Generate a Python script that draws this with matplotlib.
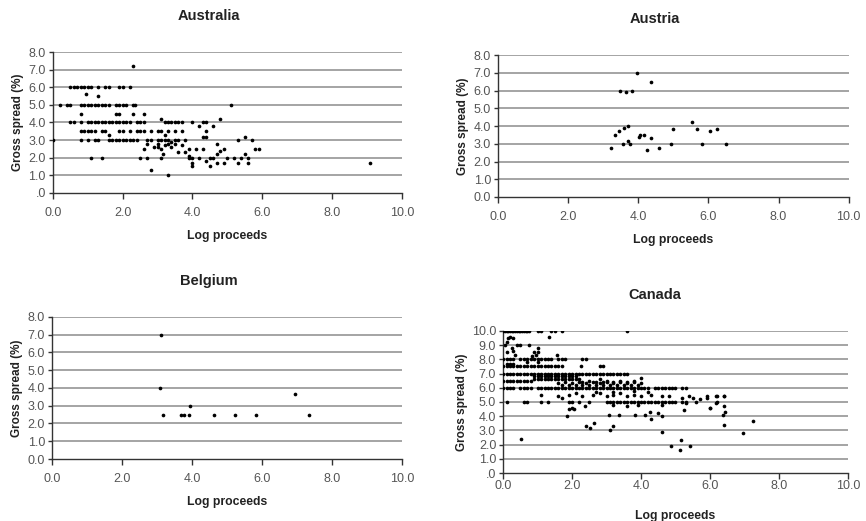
import matplotlib.pyplot as plt

plt.rcParams.update({
    "font.family": ["Liberation Sans", "DejaVu Sans"],
})

# Australia
aus_x = [
    # 6.0 row
    0.5, 0.6, 0.7, 0.8, 0.9, 1.0, 1.1, 1.3, 1.5, 1.6, 1.9, 2.0, 2.2,
    # 5.0 row
    0.2, 0.4, 0.5, 0.8, 0.9, 1.0, 1.1, 1.2, 1.3, 1.4, 1.5, 1.6, 1.8, 1.9, 2.0, 2.1, 2.3, 2.35,
    # 4.0 row
    0.5, 0.6, 0.8, 1.0, 1.1, 1.2, 1.3, 1.4, 1.5, 1.6, 1.7, 1.8, 1.9, 2.0, 2.1, 2.2, 2.4, 2.5,
    2.6, 3.2, 3.3, 3.4, 3.5, 3.6, 3.7, 4.0, 4.3, 4.4,
    # 3.5 row
    0.8, 0.9, 1.0, 1.1, 1.4, 1.5, 1.9, 2.0, 2.2, 2.4, 2.5, 2.6, 2.8, 3.0, 3.1, 3.3, 3.5, 3.7,
    # 3.0 row
    0.0, 0.8, 1.0, 1.2, 1.3, 1.6, 1.7, 1.8, 1.9, 2.0, 2.1, 2.2, 2.3, 2.4, 2.7, 3.0, 3.1, 3.2,
    3.3, 3.5, 3.6, 3.8,
    # scattered
    2.3, 0.95, 1.3, 5.1, 0.8, 1.8, 1.9, 2.3, 2.6, 4.8, 3.1, 1.2, 1.6, 1.1, 1.4, 2.5, 2.7, 3.1,
    2.8, 3.3, 9.1,
    # cloud
    2.6, 2.7, 2.8, 2.9, 3.0, 3.1, 3.2, 3.2, 3.3, 3.4, 3.5, 3.6, 3.7, 3.8, 3.9, 3.9, 4.0, 4.0,
    4.1, 4.0, 4.2, 4.2, 4.3, 4.4, 4.4, 4.3, 4.4, 4.5, 4.5, 4.6, 4.6, 4.7, 4.7, 4.7, 4.8, 4.9,
    4.9, 5.0, 5.3, 5.3, 5.4, 5.5, 5.5, 5.6, 5.6, 5.7, 5.8, 5.9, 5.2, 3.9, 3.4, 3.0, 3.15,
]
aus_y = [
    6.0, 6.0, 6.0, 6.0, 6.0, 6.0, 6.0, 6.0, 6.0, 6.0, 6.0, 6.0, 6.0,
    5.0, 5.0, 5.0, 5.0, 5.0, 5.0, 5.0, 5.0, 5.0, 5.0, 5.0, 5.0, 5.0, 5.0, 5.0, 5.0, 5.0, 5.0,
    4.0, 4.0, 4.0, 4.0, 4.0, 4.0, 4.0, 4.0, 4.0, 4.0, 4.0, 4.0, 4.0, 4.0, 4.0, 4.0, 4.0, 4.0,
    4.0, 4.0, 4.0, 4.0, 4.0, 4.0, 4.0, 4.0, 4.0, 4.0,
    3.5, 3.5, 3.5, 3.5, 3.5, 3.5, 3.5, 3.5, 3.5, 3.5, 3.5, 3.5, 3.5, 3.5, 3.5, 3.5, 3.5, 3.5,
    3.0, 3.0, 3.0, 3.0, 3.0, 3.0, 3.0, 3.0, 3.0, 3.0, 3.0, 3.0, 3.0, 3.0, 3.0, 3.0, 3.0, 3.0,
    3.0, 3.0, 3.0, 3.0,
    7.2, 5.6, 5.5, 5.0, 4.5, 4.5, 4.5, 4.5, 4.5, 4.2, 4.2, 3.5, 3.3, 2.0, 2.0, 2.0, 2.0, 2.0,
    1.3, 1.0, 1.7,
    2.5, 2.8, 3.0, 2.6, 2.8, 2.5, 2.7, 3.3, 2.8, 2.6, 2.8, 2.3, 2.7, 2.3, 2.0, 2.5, 1.5, 1.7,
    2.5, 2.0, 2.0, 3.8, 3.2, 3.2, 3.5, 2.5, 1.8, 1.5, 2.0, 3.8, 2.0, 2.8, 2.2, 1.7, 2.4, 2.5,
    1.7, 2.0, 3.0, 1.7, 2.0, 3.2, 2.2, 2.0, 1.7, 3.0, 2.5, 2.5, 2.0, 2.1, 2.9, 2.6, 2.2,
]

# Austria
aut_x = [3.21, 3.35, 3.44, 3.49, 3.64, 3.83, 3.58, 3.56, 3.72, 3.70, 3.76, 3.97, 4.02, 4.06,
         4.15, 4.24, 4.36, 4.37, 4.58, 4.92, 5.00, 5.54, 5.68, 5.82, 6.04, 6.25, 6.51]
aut_y = [2.75, 3.5, 3.75, 6.0, 5.95, 6.0, 3.9, 3.0, 4.0, 3.15, 3.0, 7.0, 3.4, 3.5,
         3.5, 2.65, 6.5, 3.3, 2.75, 3.0, 3.85, 4.25, 3.85, 3.0, 3.75, 3.85, 3.0]

# Belgium
bel_x = [3.13, 3.10, 3.16, 3.69, 3.76, 3.91, 3.95, 4.62, 5.23, 5.84, 6.94, 7.36]
bel_y = [7.0, 4.0, 2.5, 2.5, 2.5, 2.5, 3.0, 2.5, 2.5, 2.5, 3.65, 2.45]

# Canada
can_x = [
    # 10.0 row
    0.0, 0.05, 0.1, 0.15, 0.2, 0.25, 0.3, 0.35, 0.4, 0.45, 0.5, 0.55, 0.6, 0.65, 0.7, 0.75,
    1.0, 1.1, 1.4, 1.5, 1.7, 3.6,
    # 8-9.6 near origin
    0.05, 0.1, 0.15, 0.2, 0.3, 0.1, 0.25, 0.3, 0.4, 0.5, 0.75, 0.9, 0.95, 1.0, 1.0, 0.35,
    1.32, 1.55, 2.25, 0.85,
    # 8.0 row
    0.0, 0.1, 0.2, 0.3, 0.5, 0.6, 0.7, 0.8, 0.9, 1.0, 1.1, 1.2, 1.3, 1.4, 1.6, 1.7, 1.8,
    2.3, 2.4,
    # 7.7
    0.1, 0.2, 0.3, 0.7, 1.0,
    # 7.5 row
    0.0, 0.1, 0.2, 0.3, 0.4, 0.5, 0.6, 0.7, 0.8, 0.9, 1.0, 1.1, 1.2, 1.3, 1.4, 1.5, 1.6, 1.7,
    2.8, 2.9,
    # 7.0 row
    0.0, 0.1, 0.2, 0.3, 0.4, 0.5, 0.6, 0.7, 0.8, 0.9, 1.0, 1.1, 1.2, 1.3, 1.4, 1.5, 1.6, 1.7,
    1.8, 1.9, 2.0, 2.1, 2.2, 2.3, 2.4, 2.5, 2.6, 2.7, 2.8, 2.9, 3.0, 3.1, 3.2, 3.3, 3.4, 3.5,
    3.6,
    # 6.8 block
    0.9, 1.0, 1.1, 1.2, 1.3, 1.4, 1.5, 1.6, 1.7, 1.8, 1.9, 2.0, 2.1,
    # 6.6 block
    0.9, 1.0, 1.1, 1.2, 1.3, 1.4, 1.5, 1.6, 1.7, 1.8, 1.9, 2.0, 2.1, 2.2,
    # 6.5 row
    0.0, 0.1, 0.2, 0.3, 0.4, 0.5, 0.6, 0.7, 0.8, 2.3, 2.5, 2.7, 2.8, 2.9, 3.0, 3.2, 3.4, 3.6,
    3.8, 4.0,
    # 6.3 band
    1.6, 1.7, 1.8, 1.9, 2.0, 2.1, 2.2, 2.3, 2.4, 2.5, 2.6, 2.7, 2.8, 2.9, 3.0, 3.1, 3.2, 3.3,
    3.4, 3.5, 3.6, 3.7, 3.8, 3.9, 4.0,
    # 6.0 row
    0.0, 0.1, 0.2, 0.3, 0.5, 0.6, 0.7, 0.8, 1.0, 1.1, 1.2, 1.3, 1.4, 1.5, 1.6, 1.7, 1.8, 1.9,
    2.0, 2.1, 2.2, 2.3, 2.4, 2.5, 2.6, 2.7, 2.8, 2.9, 3.0, 3.1, 3.2, 3.3, 3.4, 3.5, 3.6, 3.7,
    3.8, 3.9, 4.0, 4.1, 4.2, 4.4, 4.5, 4.6, 4.7, 4.8, 4.9, 5.0, 5.2, 5.3,
    # 5.5 scatter
    1.1, 1.6, 1.7, 1.9, 2.1, 2.3, 2.6, 2.8, 3.0, 3.2, 3.4, 3.6, 3.8, 4.0, 4.3, 4.6, 4.8,
    5.2, 5.4, 5.5, 5.7, 5.9, 6.2, 6.4, 2.7, 3.2, 3.8, 4.2,
    # 5.0 row
    0.1, 0.6, 0.7, 1.1, 1.3, 1.9, 2.0, 2.2, 2.5, 3.0, 3.1, 3.2, 3.3, 3.4, 3.5, 3.6, 3.7,
    3.8, 3.9, 4.0, 4.1, 4.2, 4.3, 4.4, 4.5, 4.6, 4.7, 4.8, 4.9, 5.0, 5.2, 5.3, 5.6, 6.2,
    # 4.6-4.8 scatter
    3.2, 3.6, 3.9, 4.6, 5.3, 2.0, 6.0,
    # lower scatter
    0.53, 1.84, 1.91, 2.05, 2.37, 2.40, 2.51, 2.63, 3.09, 3.19, 3.07, 3.35, 3.82, 4.13, 4.27,
    4.30, 4.49, 4.60, 4.62, 4.88, 5.14, 5.16, 5.42, 5.26, 5.99, 6.40, 6.38, 6.43, 6.40, 6.96,
    7.25, 5.91, 6.18, 6.40, 6.18,
]
can_y = [
    10.0, 10.0, 10.0, 10.0, 10.0, 10.0, 10.0, 10.0, 10.0, 10.0, 10.0, 10.0, 10.0, 10.0, 10.0,
    10.0, 10.0, 10.0, 10.0, 10.0, 10.0, 10.0,
    9.0, 9.2, 9.5, 9.6, 9.5, 8.5, 8.8, 8.6, 9.0, 9.0, 9.0, 8.5, 8.3, 8.8, 8.5, 8.3,
    9.55, 8.3, 7.5, 8.2,
    8.0, 8.0, 8.0, 8.0, 8.0, 8.0, 8.0, 8.0, 8.0, 8.0, 8.0, 8.0, 8.0, 8.0, 8.0, 8.0, 8.0,
    8.0, 8.0,
    7.7, 7.7, 7.7, 7.8, 7.8,
    7.5, 7.5, 7.5, 7.5, 7.5, 7.5, 7.5, 7.5, 7.5, 7.5, 7.5, 7.5, 7.5, 7.5, 7.5, 7.5, 7.5, 7.5,
    7.5, 7.5,
    7.0, 7.0, 7.0, 7.0, 7.0, 7.0, 7.0, 7.0, 7.0, 7.0, 7.0, 7.0, 7.0, 7.0, 7.0, 7.0, 7.0, 7.0,
    7.0, 7.0, 7.0, 7.0, 7.0, 7.0, 7.0, 7.0, 7.0, 7.0, 7.0, 7.0, 7.0, 7.0, 7.0, 7.0, 7.0, 7.0,
    7.0,
    6.8, 6.8, 6.8, 6.8, 6.8, 6.8, 6.8, 6.8, 6.8, 6.8, 6.8, 6.8, 6.8,
    6.6, 6.6, 6.6, 6.6, 6.6, 6.6, 6.6, 6.6, 6.6, 6.6, 6.6, 6.6, 6.6, 6.6,
    6.5, 6.5, 6.5, 6.5, 6.5, 6.5, 6.5, 6.5, 6.5, 6.4, 6.5, 6.4, 6.6, 6.4, 6.5, 6.4, 6.5, 6.4,
    6.5, 6.7,
    6.3, 6.2, 6.4, 6.2, 6.3, 6.2, 6.4, 6.2, 6.3, 6.2, 6.4, 6.2, 6.3, 6.2, 6.4, 6.2, 6.3, 6.2,
    6.4, 6.2, 6.3, 6.2, 6.4, 6.2, 6.3,
    6.0, 6.0, 6.0, 6.0, 6.0, 6.0, 6.0, 6.0, 6.0, 6.0, 6.0, 6.0, 6.0, 6.0, 6.0, 6.0, 6.0, 6.0,
    6.0, 6.0, 6.0, 6.0, 6.0, 6.0, 6.0, 6.0, 6.0, 6.0, 6.0, 6.0, 6.0, 6.0, 6.0, 6.0, 6.0, 6.0,
    6.0, 6.0, 6.0, 6.0, 6.0, 6.0, 6.0, 6.0, 6.0, 6.0, 6.0, 6.0, 6.0, 6.0,
    5.5, 5.4, 5.3, 5.5, 5.6, 5.4, 5.5, 5.6, 5.4, 5.5, 5.6, 5.4, 5.5, 5.4, 5.5, 5.4, 5.4,
    5.3, 5.4, 5.3, 5.2, 5.3, 5.4, 5.4, 5.7, 5.7, 5.8, 5.7,
    5.0, 5.0, 5.0, 5.0, 5.0, 5.0, 5.0, 5.0, 5.0, 5.0, 5.0, 5.0, 5.0, 5.0, 5.0, 5.0, 5.0,
    5.0, 5.0, 5.0, 5.0, 5.0, 5.0, 5.0, 5.0, 5.0, 5.0, 5.0, 5.0, 5.0, 5.0, 5.0, 5.0, 5.0,
    4.8, 4.7, 4.8, 4.8, 4.9, 4.6, 4.6,
    2.4, 4.0, 4.47, 4.47, 4.7, 3.3, 3.2, 3.5, 3.0, 3.3, 4.1, 4.1, 4.1, 4.1, 4.3,
    3.8, 4.2, 4.0, 2.9, 1.93, 1.65, 2.35, 1.93, 4.4, 4.6, 4.7, 4.1, 4.3, 3.4, 2.85,
    3.65, 5.4, 5.4, 5.4, 4.9,
]

GRID_COLOR = "#8c8c8c"
TICK_COLOR = "#555555"


def draw_panel(rect, title, xs, ys, ymax, ylabels, title_x, xpad=6):
    ax = fig.add_axes(rect)
    ax.scatter(xs, ys, s=7, color="black", linewidths=0, zorder=3)

    yticks = list(range(0, ymax + 1))
    for yv in yticks[1:]:
        ax.axhline(yv, color=GRID_COLOR, linewidth=1.1, zorder=1)

    ax.set_xlim(0, 10)
    ax.set_ylim(0, ymax)
    ax.set_xticks([0, 2, 4, 6, 8, 10])
    ax.set_xticklabels(["0.0", "2.0", "4.0", "6.0", "8.0", "10.0"])
    ax.set_yticks(yticks)
    ax.set_yticklabels(ylabels)

    for side in ["top", "right"]:
        ax.spines[side].set_visible(False)
    for side in ["left", "bottom"]:
        ax.spines[side].set_color("#333333")
        ax.spines[side].set_linewidth(1.0)

    ax.tick_params(axis="x", direction="out", length=4, width=1, colors="#333333",
                   labelcolor=TICK_COLOR, labelsize=9, pad=xpad)
    ax.tick_params(axis="y", direction="out", length=3, width=1, colors="#333333",
                   labelcolor=TICK_COLOR, labelsize=9, pad=2)

    ax.set_xlabel("Log proceeds", fontsize=8.8, fontweight="bold", color="#222222",
                  labelpad=8 + (6 - xpad))
    ax.set_ylabel("Gross spread (%)", fontsize=8.5, fontweight="bold", color="#222222",
                  labelpad=3)
    ax.text(title_x, 1.0 + 36.0 / (rect[3] * 521), title, transform=ax.transAxes,
            ha="center", va="center", fontsize=10.5, fontweight="bold", color="#222222")
    return ax


fig = plt.figure(figsize=(8.66, 5.21), dpi=100)

labels8_dot = [".0", "1.0", "2.0", "3.0", "4.0", "5.0", "6.0", "7.0", "8.0"]
labels8 = ["0.0", "1.0", "2.0", "3.0", "4.0", "5.0", "6.0", "7.0", "8.0"]
labels10 = [".0", "1.0", "2.0", "3.0", "4.0", "5.0", "6.0", "7.0", "8.0", "9.0", "10.0"]

draw_panel([0.061, 0.630, 0.403, 0.270], "Australia", aus_x, aus_y, 8, labels8_dot, 0.447)
draw_panel([0.575, 0.622, 0.405, 0.272], "Austria", aut_x, aut_y, 8, labels8, 0.447)
draw_panel([0.060, 0.119, 0.404, 0.273], "Belgium", bel_x, bel_y, 8, labels8, 0.449)
draw_panel([0.581, 0.092, 0.398, 0.273], "Canada", can_x, can_y, 10, labels10, 0.44,
           xpad=1)

fig.savefig("out.png", dpi=100)
